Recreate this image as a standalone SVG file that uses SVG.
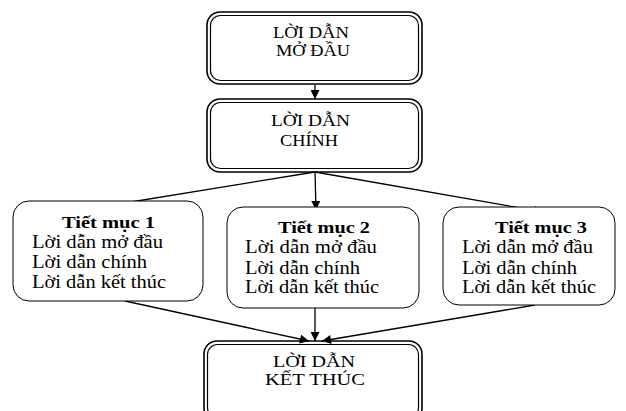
<svg xmlns="http://www.w3.org/2000/svg" width="626" height="411" viewBox="0 0 626 411">
<style>
.o{fill:none;stroke:#000;stroke-width:1.6}
.i{fill:none;stroke:#000;stroke-width:1.2}
.b{fill:#fff;stroke:#000;stroke-width:1}
.h{font-family:"Liberation Serif","Times New Roman",serif;font-size:17px;fill:#000}
.t{font-family:"Liberation Serif","Times New Roman",serif;font-size:18px;fill:#000}
.tb{font-family:"Liberation Serif","Times New Roman",serif;font-size:17px;font-weight:bold;fill:#000}
.c{stroke:#000;stroke-width:1.3;fill:none}
</style>
<defs>
<marker id="ah" viewBox="0 0 10 10" refX="10" refY="5" markerWidth="11" markerHeight="9" markerUnits="userSpaceOnUse" orient="auto">
<path d="M0,0 L10,5 L0,10 Z" fill="#000"/>
</marker>
</defs>
<rect width="626" height="411" fill="#fff"/>
<g id="connectors">
<line class="c" x1="315" y1="85" x2="315" y2="99" marker-end="url(#ah)"/>
<line class="c" x1="315" y1="172" x2="100" y2="207" marker-end="url(#ah)"/>
<line class="c" x1="315" y1="172" x2="316" y2="210" marker-end="url(#ah)"/>
<line class="c" x1="315" y1="172" x2="543" y2="212" marker-end="url(#ah)"/>
<line class="c" x1="125" y1="301" x2="309" y2="341" marker-end="url(#ah)"/>
<line class="c" x1="315" y1="308" x2="315" y2="341" marker-end="url(#ah)"/>
<line class="c" x1="535" y1="305" x2="322" y2="341" marker-end="url(#ah)"/>
</g>
<g id="loi-dan-mo-dau">
<rect class="o" x="207" y="12" width="215" height="72" rx="13"/>
<rect class="i" x="210.5" y="15.5" width="208" height="65" rx="10"/>
<text class="h" x="273" y="38" textLength="76" lengthAdjust="spacingAndGlyphs">LỜI DẪN</text>
<text class="h" x="276" y="56" textLength="74" lengthAdjust="spacingAndGlyphs">MỞ ĐẦU</text>
</g>
<g id="loi-dan-chinh">
<rect class="o" x="207" y="99" width="215" height="73" rx="13"/>
<rect class="i" x="210.5" y="102.5" width="208" height="66" rx="10"/>
<text class="h" x="271" y="126" textLength="79" lengthAdjust="spacingAndGlyphs">LỜI DẪN</text>
<text class="h" x="280" y="146" textLength="58" lengthAdjust="spacingAndGlyphs">CHÍNH</text>
</g>
<g id="tiet-muc-1">
<rect class="b" x="13" y="201" width="190" height="100" rx="16"/>
<text class="tb" x="62" y="228" textLength="93" lengthAdjust="spacingAndGlyphs">Tiết mục  1</text>
<text class="t" x="32" y="248" textLength="131" lengthAdjust="spacingAndGlyphs">Lời dẫn mở đầu</text>
<text class="t" x="32" y="268" textLength="115" lengthAdjust="spacingAndGlyphs">Lời dẫn chính</text>
<text class="t" x="32" y="288" textLength="134" lengthAdjust="spacingAndGlyphs">Lời dẫn kết thúc</text>
</g>
<g id="tiet-muc-2">
<rect class="b" x="227" y="207" width="192" height="101" rx="16"/>
<text class="tb" x="278" y="233" textLength="92" lengthAdjust="spacingAndGlyphs">Tiết mục  2</text>
<text class="t" x="245" y="253" textLength="132" lengthAdjust="spacingAndGlyphs">Lời dẫn mở đầu</text>
<text class="t" x="245" y="274" textLength="115" lengthAdjust="spacingAndGlyphs">Lời dẫn chính</text>
<text class="t" x="245" y="293" textLength="134" lengthAdjust="spacingAndGlyphs">Lời dẫn kết thúc</text>
</g>
<g id="tiet-muc-3">
<rect class="b" x="443" y="207" width="172" height="98" rx="16"/>
<text class="tb" x="495" y="233" textLength="92" lengthAdjust="spacingAndGlyphs">Tiết mục  3</text>
<text class="t" x="462" y="253" textLength="131" lengthAdjust="spacingAndGlyphs">Lời dẫn mở đầu</text>
<text class="t" x="462" y="274" textLength="115" lengthAdjust="spacingAndGlyphs">Lời dẫn chính</text>
<text class="t" x="462" y="293" textLength="134" lengthAdjust="spacingAndGlyphs">Lời dẫn kết thúc</text>
</g>
<g id="loi-dan-ket-thuc">
<rect class="o" x="204" y="341" width="218" height="80" rx="13"/>
<rect class="i" x="207.5" y="344.5" width="211" height="73" rx="10"/>
<text class="h" x="273" y="367" textLength="82" lengthAdjust="spacingAndGlyphs">LỜI DẪN</text>
<text class="h" x="265" y="385" textLength="100" lengthAdjust="spacingAndGlyphs">KẾT THÚC</text>
</g>
</svg>
